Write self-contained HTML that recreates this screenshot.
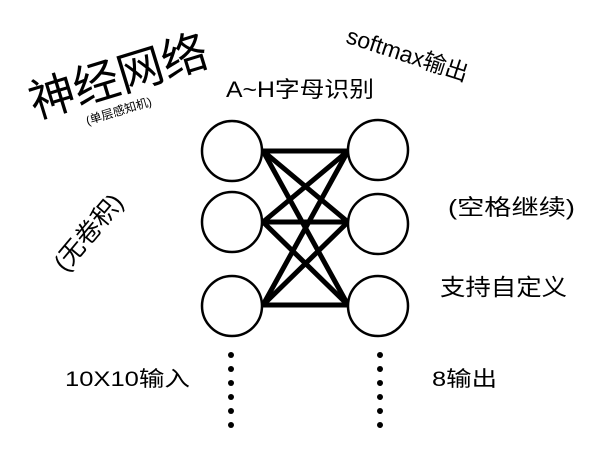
<!DOCTYPE html>
<html><head><style>body{margin:0;background:#fff}svg{display:block}text{font-family:"Liberation Sans","Noto Sans CJK SC",sans-serif;fill:#000}</style></head>
<body>
<svg width="612" height="458" viewBox="0 0 612 458">
<g stroke="#000" stroke-width="5" stroke-linecap="round">
<line x1="263" y1="151" x2="348" y2="151"/>
<line x1="263" y1="222" x2="348" y2="222"/>
<line x1="263" y1="305" x2="348" y2="305"/>
<line x1="263" y1="151" x2="348" y2="222"/>
<line x1="263" y1="151" x2="348" y2="305"/>
<line x1="263" y1="222" x2="348" y2="151"/>
<line x1="263" y1="222" x2="348" y2="305"/>
<line x1="263" y1="305" x2="348" y2="151"/>
<line x1="263" y1="305" x2="348" y2="222"/>
</g>
<g fill="#fff" stroke="#000" stroke-width="2.5">
<circle cx="232" cy="151" r="30"/><circle cx="232" cy="222" r="30"/><circle cx="232" cy="306" r="30"/>
<circle cx="378" cy="150" r="30"/><circle cx="378" cy="224" r="30"/><circle cx="378" cy="306" r="30"/>
</g>
<g fill="#000">
<circle cx="231" cy="355" r="3"/><circle cx="231" cy="369" r="3"/><circle cx="231" cy="383" r="3"/><circle cx="231" cy="397" r="3"/><circle cx="231" cy="411" r="3"/><circle cx="231" cy="425" r="3"/>
<circle cx="380" cy="355" r="3"/><circle cx="380" cy="369" r="3"/><circle cx="380" cy="383" r="3"/><circle cx="380" cy="397" r="3"/><circle cx="380" cy="411" r="3"/><circle cx="380" cy="425" r="3"/>
</g>
<text transform="translate(123,92) rotate(-17)" font-size="46" text-anchor="middle">神经网络</text>
<text transform="translate(120,115) rotate(-17)" font-size="12" text-anchor="middle">(单层感知机)</text>
<text x="226" y="97" font-size="22" textLength="148" lengthAdjust="spacingAndGlyphs">A~H字母识别</text>
<text transform="translate(405,62) rotate(18)" font-size="23" text-anchor="middle">softmax输出</text>
<text transform="translate(95,238) rotate(-50)" font-size="25" text-anchor="middle">(无卷积)</text>
<text x="448" y="215" font-size="22" textLength="127" lengthAdjust="spacingAndGlyphs">(空格继续)</text>
<text x="440" y="295" font-size="23" textLength="127" lengthAdjust="spacingAndGlyphs">支持自定义</text>
<text x="65" y="386" font-size="21" textLength="125" lengthAdjust="spacingAndGlyphs">10X10输入</text>
<text x="432" y="386" font-size="21" textLength="65" lengthAdjust="spacingAndGlyphs">8输出</text>
</svg>
</body></html>
